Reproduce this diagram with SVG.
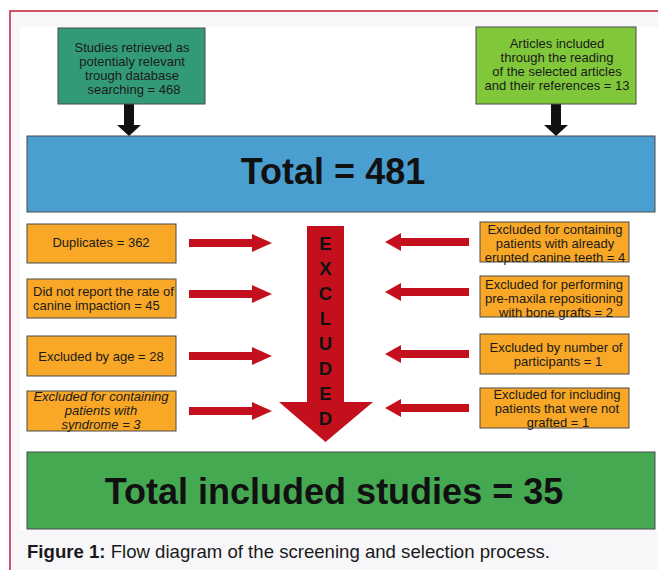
<svg xmlns="http://www.w3.org/2000/svg" width="658" height="570" viewBox="0 0 658 570">
<style>
.t{font-family:"Liberation Sans",Arial,sans-serif;fill:#1a1a1a;}
.s{font-size:13px;text-anchor:middle;}
.big{font-size:36px;font-weight:bold;text-anchor:middle;fill:#111;}
.box{stroke:#4a4a4a;stroke-width:1;}
.org{fill:#f8a826;}
.red{fill:#c4101c;}
.blk{fill:#111;}
.ltr{font-size:18.5px;font-weight:bold;text-anchor:middle;fill:#111;}
</style>
<defs>
<polygon id="ra" points="0,-4 63,-4 63,-9 83,0 63,9 63,4 0,4"/>
<polygon id="la" points="0,0 16,-9 16,-4 84,-4 84,4 16,4 16,9"/>
<polygon id="da" points="-5,0 5,0 5,21 12,21 0,32 -12,21 -5,21"/>
</defs>
<rect width="658" height="570" fill="#ffffff"/>
<rect x="10" y="11" width="660" height="580" fill="#f7f7f9" stroke="#c41e3a" stroke-width="1.5"/>
<rect x="20" y="27" width="638" height="503" fill="#ffffff"/>

<g id="connectors">
<use href="#da" x="129" y="104" class="blk"/>
<use href="#da" x="556" y="104" class="blk"/>
<use href="#ra" x="189" y="243" class="red"/>
<use href="#ra" x="189" y="294" class="red"/>
<use href="#ra" x="189" y="356" class="red"/>
<use href="#ra" x="189" y="411" class="red"/>
<use href="#la" x="385" y="242" class="red"/>
<use href="#la" x="385" y="292" class="red"/>
<use href="#la" x="385" y="354" class="red"/>
<use href="#la" x="385" y="408" class="red"/>
</g>

<g id="excluded">
<polygon class="red" points="307,226 344,226 344,402 373,402 325.5,442 279,402 307,402"/>
<text class="t ltr" x="325.5" y="249.5">E</text>
<text class="t ltr" x="325.5" y="274.5">X</text>
<text class="t ltr" x="325.5" y="299.5">C</text>
<text class="t ltr" x="325.5" y="324.5">L</text>
<text class="t ltr" x="325.5" y="349.5">U</text>
<text class="t ltr" x="325.5" y="374.5">D</text>
<text class="t ltr" x="325.5" y="399.5">E</text>
<text class="t ltr" x="325.5" y="424.5">D</text>
</g>

<g id="studies">
<rect class="box" x="58" y="28" width="147" height="76" fill="#339a78"/>
<text class="t s" x="132" y="52">Studies retrieved as</text>
<text class="t s" x="132" y="66">potentialy relevant</text>
<text class="t s" x="132" y="80">trough database</text>
<text class="t s" x="134" y="94">searching = 468</text>
</g>

<g id="articles">
<rect class="box" x="476" y="27" width="160" height="77" fill="#80c83a"/>
<text class="t s" x="557" y="48">Articles included</text>
<text class="t s" x="557" y="62">through the reading</text>
<text class="t s" x="557" y="76">of the selected articles</text>
<text class="t s" x="557" y="90">and their references = 13</text>
</g>

<g id="total">
<rect class="box" x="27" y="136" width="628" height="76" fill="#4a9fd0"/>
<text class="t big" x="333" y="184">Total = 481</text>
</g>

<g id="duplicates">
<rect class="box org" x="27" y="224" width="149" height="39"/>
<text class="t s" x="101" y="247">Duplicates = 362</text>
</g>
<g id="notreport">
<rect class="box org" x="27" y="279" width="149" height="39"/>
<text class="t" font-size="13" x="33" y="296">Did not report the rate of</text>
<text class="t" font-size="13" x="33" y="310">canine impaction = 45</text>
</g>
<g id="age">
<rect class="box org" x="27" y="336" width="149" height="40"/>
<text class="t s" x="101" y="361">Excluded by age = 28</text>
</g>
<g id="syndrome">
<rect class="box org" x="27" y="391" width="149" height="40"/>
<text class="t s" font-style="italic" x="101" y="401">Excluded for containing</text>
<text class="t s" font-style="italic" x="101" y="415">patients with</text>
<text class="t s" font-style="italic" x="101" y="429">syndrome = 3</text>
</g>

<g id="erupted">
<rect class="box org" x="480" y="222" width="149" height="40"/>
<text class="t s" x="555" y="234">Excluded for containing</text>
<text class="t s" x="555" y="248">patients with already</text>
<text class="t s" x="555" y="262">erupted canine teeth = 4</text>
</g>
<g id="premaxila">
<rect class="box org" x="480" y="276" width="149" height="41"/>
<text class="t s" x="554" y="289">Excluded for performing</text>
<text class="t s" x="554" y="303">pre-maxila repositioning</text>
<text class="t s" x="556" y="317">with bone grafts = 2</text>
</g>
<g id="participants">
<rect class="box org" x="480" y="334" width="149" height="40"/>
<text class="t s" x="556" y="352">Excluded by number of</text>
<text class="t s" x="558" y="366">participants = 1</text>
</g>
<g id="grafted">
<rect class="box org" x="480" y="388" width="149" height="40"/>
<text class="t s" x="557" y="399">Excluded for including</text>
<text class="t s" x="557" y="413">patients that were not</text>
<text class="t s" x="558" y="427">grafted = 1</text>
</g>

<g id="included">
<rect class="box" x="27" y="452" width="628" height="77" fill="#45a952"/>
<text class="t big" font-size="38" x="334" y="504">Total included studies = 35</text>
</g>

<text class="t" font-size="18.6" x="27" y="558" fill="#222"><tspan font-weight="bold">Figure 1:</tspan> Flow diagram of the screening and selection process.</text>
</svg>
